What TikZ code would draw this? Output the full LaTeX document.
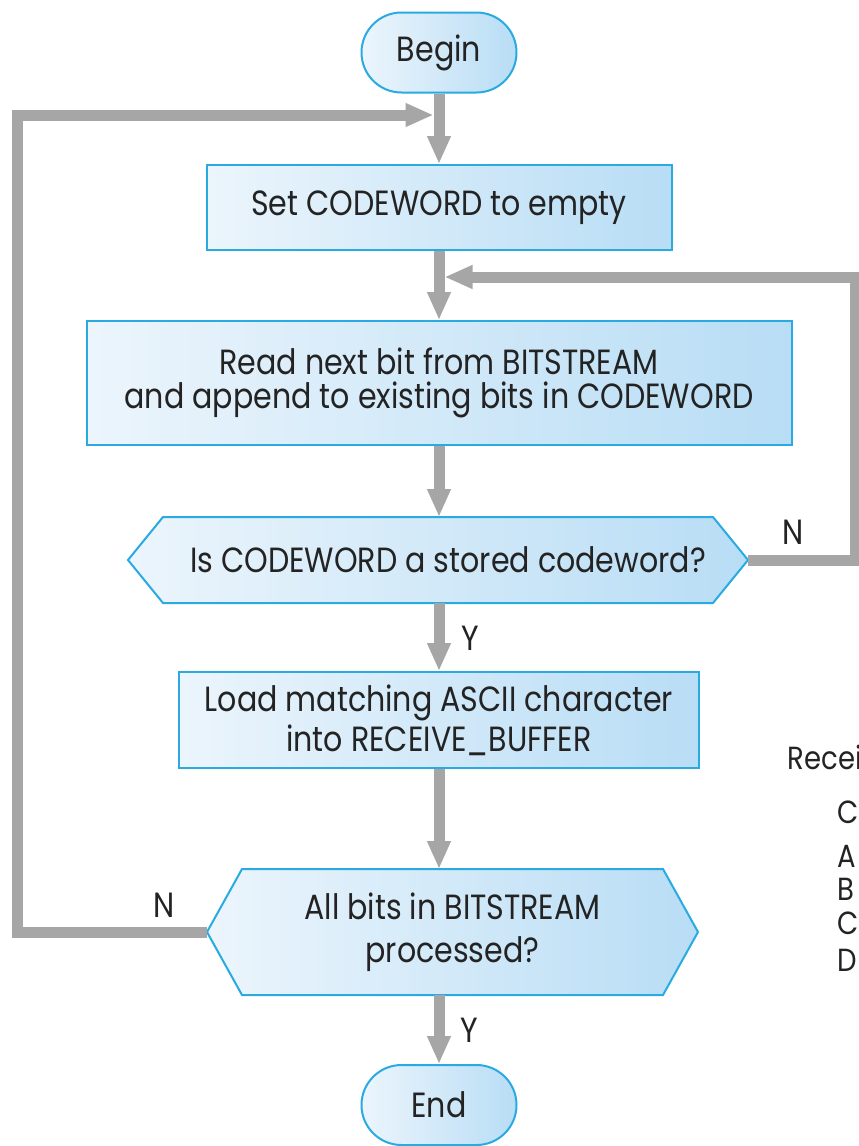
\documentclass[tikz,border=0pt]{standalone}
\usepackage{fontspec}
\setmainfont{Poppins}[FakeStretch=0.86]
\usetikzlibrary{arrows.meta,shapes.misc,backgrounds,calc}
\definecolor{boxedge}{RGB}{41,171,226}
\definecolor{boxlight}{RGB}{236,245,252}
\definecolor{boxdark}{RGB}{184,221,245}
\definecolor{flowgray}{RGB}{166,166,166}
\definecolor{inktext}{RGB}{35,35,35}
\begin{document}
\begin{tikzpicture}[x=1pt,y=-1pt,
  every node/.style={text=inktext},
  mainfont/.style={font=\fontsize{35}{38}\selectfont},
  procbox/.style 2 args={mainfont, draw=boxedge, line width=2pt,
    left color=boxlight, right color=boxdark, align=center,
    minimum width=#1, minimum height=#2, inner sep=0pt},
  terminal/.style={mainfont, rounded rectangle, draw=boxedge, line width=2pt,
    left color=boxlight, right color=boxdark,
    minimum width=155pt, minimum height=80pt, inner sep=0pt},
  decision/.style 2 args={mainfont, rectangle, align=center,
    minimum width=#1, minimum height=#2, inner sep=0pt, outer sep=0pt},
  hexface/.style={left color=boxlight, right color=boxdark, draw=boxedge, line width=2pt},
  flow/.style={draw=flowgray, line width=11pt, line join=miter,
    -{Triangle[length=28pt,width=22pt]}},
  flowlbl/.style={mainfont},
  sidetext/.style={font=\fontsize{32}{36}\selectfont, anchor=west}
]
\useasboundingbox (0,0) rectangle (859,1146);

% terminals and process boxes
\node[terminal] (begin) at (439,52.5) {Begin};
\node[procbox={465pt}{85pt}] (set) at (439,207.5) {Set CODEWORD to empty};
\node[procbox={705pt}{124pt}] (read) at (439,383)
  {Read next bit from BITSTREAM\\[-4pt]and append to existing bits in CODEWORD};
\node[decision={620pt}{86pt}] (d1) at (438,560)
  {\hspace{20pt}Is CODEWORD a stored codeword?};
\node[procbox={520pt}{96pt}] (load) at (439,720)
  {Load matching ASCII character\\[2pt]into RECEIVE\_BUFFER};
\node[decision={491pt}{126pt}] (d2) at (452.5,932)
  {All bits in BITSTREAM\\[5pt]processed?};
\node[terminal] (end) at (439,1105) {End};

% hexagonal decision outlines behind their texts
\begin{pgfonlayer}{background}
  \fill[white] (0,0) rectangle (859,1146);
  \shadedraw[hexface] (d1.west) -- ($(d1.north west)+(35,0)$)
    -- ($(d1.north east)+(-35,0)$) -- (d1.east)
    -- ($(d1.south east)+(-35,0)$) -- ($(d1.south west)+(35,0)$) -- cycle;
  \shadedraw[hexface] (d2.west) -- ($(d2.north west)+(35,0)$)
    -- ($(d2.north east)+(-35,0)$) -- (d2.east)
    -- ($(d2.south east)+(-35,0)$) -- ($(d2.south west)+(35,0)$) -- cycle;
\end{pgfonlayer}

% loop-back corners and junctions on the main line
\coordinate (ltop) at (17,115);
\coordinate (ljoin) at (433.5,115);
\coordinate (rtop) at (855,277);
\coordinate (rjoin) at (444.5,277);

% main flow
\draw[flow] (begin.south) -- (set.north);
\draw[flow] (set.south) -- (read.north);
\draw[flow] (read.south) -- (read.south |- d1.north);
\draw[flow] (d1.south -| load.north) -- (load.north);
\draw[flow] (load.south) -- (load.south |- d2.north);
\draw[flow] (load.south |- d2.south) -- (end.north);

% loops
\draw[flow] (d1.east) -| (rtop) -- (rjoin);
\draw[flow] (d2.west) -| (ltop) -- (ljoin);

% branch labels
\node[flowlbl] (n1) at (793,532) {N};
\node[flowlbl] (y1) at (470,638) {Y};
\node[flowlbl] (n2) at (164,905) {N};
\node[flowlbl] (y2) at (469,1030) {Y};

% side listing, cut by the page edge
\begin{scope}
  \clip (0,0) rectangle (859,1146);
  \node[sidetext] (rcv) at (784,757) {Receiv};
  \node[sidetext] (c1) at (834,812) {C};
  \node[sidetext] (c2) at (834,856) {A};
  \node[sidetext] (c3) at (834,889) {B};
  \node[sidetext] (c4) at (834,923) {C};
  \node[sidetext] (c5) at (834,960) {D};
\end{scope}
\end{tikzpicture}
\end{document}
